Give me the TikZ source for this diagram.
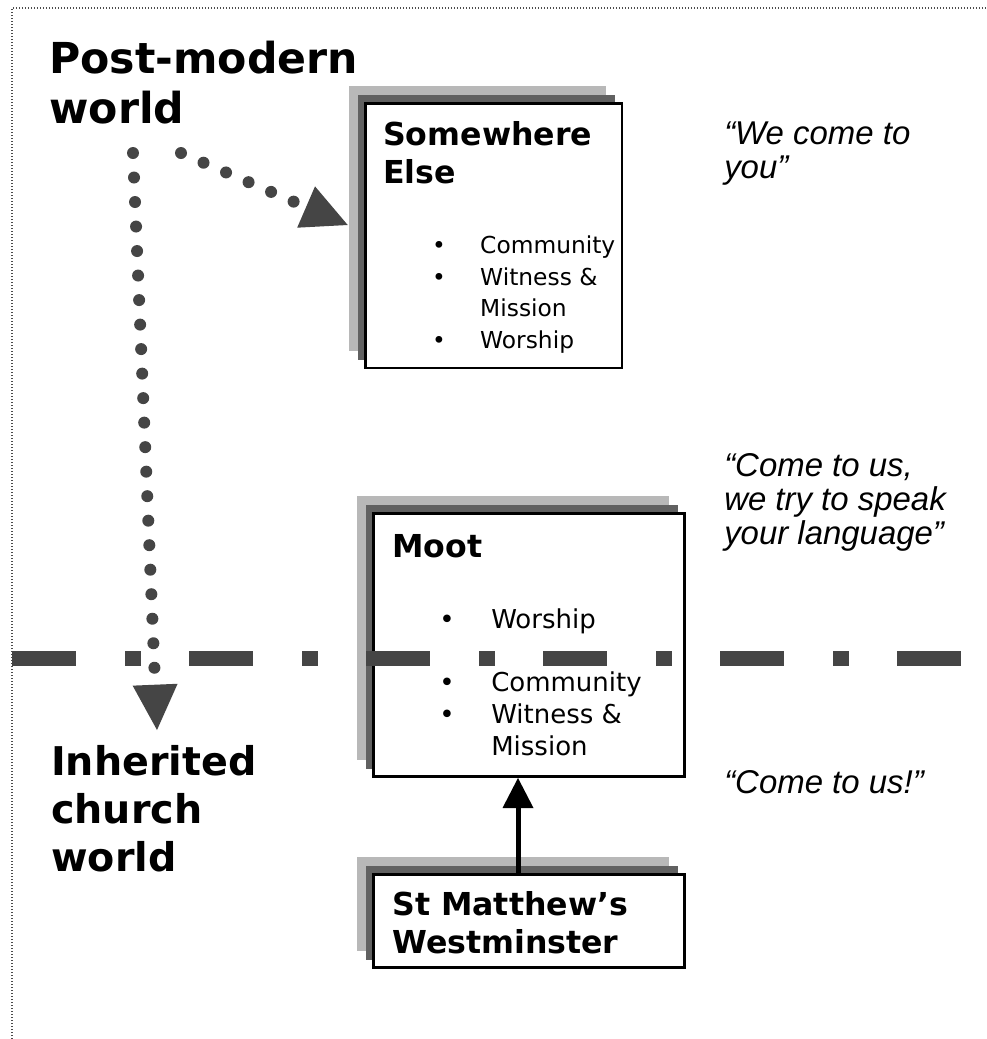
\documentclass[tikz,border=0pt]{standalone}
\usepackage{fontspec}
\setmainfont{DejaVu Sans}
\newfontfamily\quotefont{Liberation Sans}
\usetikzlibrary{shadows,arrows.meta,positioning,calc}
\definecolor{shadelight}{rgb}{0.72,0.72,0.72}
\definecolor{shadedark}{rgb}{0.38,0.38,0.38}
\definecolor{dotgrey}{rgb}{0.27,0.27,0.27}
\newcommand{\itembullet}{\makebox[39pt][l]{\textbullet}}
\newcommand{\itemgap}{\hspace*{39pt}}
\newcommand{\smallbullet}{\makebox[36pt][l]{\textbullet}}
\newcommand{\smallgap}{\hspace*{36pt}}
\tikzset{
	churchbox/.style={
		rectangle,
		draw=black, line width=1.9pt,
		fill=white,
		inner sep=0pt,
		general shadow={shadow xshift=-12pt, shadow yshift=12.75pt, fill=shadelight},
		general shadow={shadow xshift=-5.25pt, shadow yshift=6pt, fill=shadedark}},
	worldtitle/.style={font=\bfseries\fontsize{32}{37.5}\selectfont, align=left, inner sep=0pt, anchor=north west},
	churchtitle/.style={font=\bfseries\fontsize{29.7}{36}\selectfont, align=left, inner sep=0pt, anchor=north west},
	boxtitle/.style={font=\bfseries\fontsize{23.7}{29}\selectfont, align=left, inner sep=0pt, anchor=north west},
	itemlist/.style={font=\fontsize{19.5}{24.2}\selectfont, align=left, inner sep=0pt, anchor=north west},
	smalllist/.style={font=\fontsize{17.5}{23.6}\selectfont, align=left, inner sep=0pt, anchor=north west},
	quotetext/.style={font=\quotefont\itshape\fontsize{24.7}{25.5}\selectfont, align=left, inner sep=0pt, anchor=north west},
	frameline/.style={draw=black!70, line width=1.1pt, dash pattern=on 1.1pt off 1.15pt},
	dividerline/.style={draw=dotgrey, line width=11.25pt, dash pattern=on 48pt off 36.75pt on 12pt off 36pt},
	dotarrow/.style={draw=dotgrey, line width=9pt, line cap=round, dash pattern=on 0pt off 18.4pt,
		-{Triangle[width=33.75pt,length=34pt,line width=0pt]}},
	uparrow/.style={draw=black, line width=3.75pt, -{Triangle[width=23.25pt,length=22.5pt,line width=0pt]}},
}

\begin{document}
\begin{tikzpicture}[x=0.75pt,y=-0.75pt]
\useasboundingbox (0,0) rectangle (986,1039);
\draw[frameline] (12,1039) -- (12,8) -- (986,8);

% the three churches
\node[churchbox, minimum width=192.4pt, minimum height=198.4pt] (sw) at (493.5,235.5) {};
\node[churchbox, minimum width=233.6pt, minimum height=197.6pt] (moot) at (529,645) {};
\node[churchbox, minimum width=233.6pt, minimum height=70.1pt] (stm) at (529,921) {};

\node[boxtitle] (swtitle) at ($(sw.north west)+(19,19)$) {Somewhere\\Else};
\node[smalllist] (swlist) at ($(sw.north west)+(68,134)$)
	{\smallbullet Community\\\smallbullet Witness \&\\\smallgap Mission\\\smallbullet Worship};
\node[boxtitle] (moottitle) at ($(moot.north west)+(20,22)$) {Moot};
\node[itemlist] (mootup) at ($(moot.north west)+(67,96)$) {\itembullet Worship};
\node[itemlist] (mootdown) at ($(moot.north west)+(67,159)$)
	{\itembullet Community\\\itembullet Witness \&\\\itemgap Mission};
\node[boxtitle] (stmtitle) at ($(stm.north west)+(20,18)$) {St Matthew’s\\Westminster};

% worlds and voices
\node[worldtitle] (pm) at (49,41) {Post-modern\\world};
\node[churchtitle] (inh) at (51,745) {Inherited\\church\\world};
\node[quotetext] (swquote) at (724,122) {“We come to\\you”};
\node[quotetext] (mootquote) at (724,453) {“Come to us,\\we try to speak\\your language”};
\node[quotetext] (stmquote) at (724,770) {“Come to us!”};

\draw[dividerline] (12,658) -- (961,658);

\coordinate (pmv) at (133,153);
\coordinate (pmh) at (181,153);
\coordinate (inhtip) at (157,730);
\draw[dotarrow] (pmv) -- (inhtip);
\draw[dotarrow] (pmh) -- ($(sw.west)+(-16.25,-10.5)$);
\draw[uparrow] ([xshift=-8.25pt]stm.north) -- ([xshift=-8.25pt]moot.south);
\end{tikzpicture}
\end{document}
